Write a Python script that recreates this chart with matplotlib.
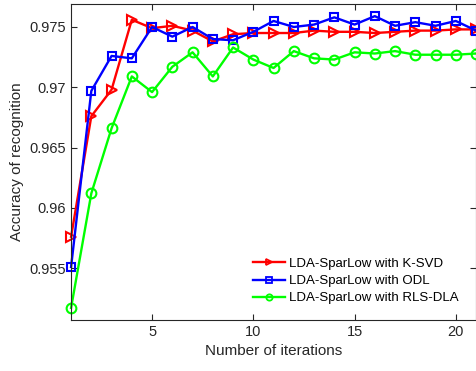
import numpy as np
import matplotlib
matplotlib.use("Agg")
import matplotlib.pyplot as plt

plt.rcParams['font.family'] = ['Liberation Sans', 'DejaVu Sans']

# iterations 1..21
iterations = list(range(1, 22))

ksvd = [0.9576, 0.9676, 0.9698, 0.9756, 0.9749, 0.9751, 0.9747, 0.9738, 0.9744,
        0.9745, 0.9745, 0.9745, 0.9747, 0.9746, 0.9746, 0.9745, 0.9746, 0.9747,
        0.9747, 0.9748, 0.9748]
odl = [0.9551, 0.9697, 0.9726, 0.9724, 0.9750, 0.9742, 0.9750, 0.9740, 0.9739,
       0.9746, 0.9755, 0.9750, 0.9752, 0.9758, 0.9752, 0.9759, 0.9751, 0.9754,
       0.9751, 0.9755, 0.9747]
rls = [0.9517, 0.9612, 0.9666, 0.9709, 0.9696, 0.9717, 0.9729, 0.9709, 0.9733,
       0.9723, 0.9716, 0.9730, 0.9724, 0.9723, 0.9729, 0.9728, 0.9730, 0.9727,
       0.9727, 0.9727, 0.9728]

labels = ['LDA-SparLow with K-SVD', 'LDA-SparLow with ODL', 'LDA-SparLow with RLS-DLA']

fig = plt.figure(figsize=(4.77, 3.71), dpi=100)
ax = fig.add_axes([0.149, 0.1375, 0.849, 0.8515])

ax.plot(iterations, ksvd, color='red', marker='>', mfc='none', ms=7, mew=1.5,
        lw=1.7, label=labels[0], clip_on=False)
ax.plot(iterations, odl, color='blue', marker='s', mfc='none', ms=6, mew=1.5,
        lw=1.7, label=labels[1], clip_on=False)
ax.plot(iterations, rls, color=(0, 1, 0), marker='o', mfc='none', ms=7, mew=1.5,
        lw=1.7, label=labels[2], clip_on=False)

ax.set_xlim(1, 21)
ax.set_ylim(0.9507, 0.9769)
ax.set_xticks([5, 10, 15, 20])
ax.set_yticks([0.955, 0.96, 0.965, 0.97, 0.975])
ax.set_yticklabels(['0.955', '0.96', '0.965', '0.97', '0.975'])

gray = (0.15, 0.15, 0.15)
for s in ax.spines.values():
    s.set_color(gray)
    s.set_linewidth(0.8)
ax.tick_params(direction='in', top=True, right=True, colors=gray,
               labelsize=10.5, length=4)
ax.set_xlabel('Number of iterations', fontsize=11, color=gray)
ax.set_ylabel('Accuracy of recognition', fontsize=11, color=gray)

leg = ax.legend(loc='lower right', frameon=False, fontsize=9.5,
                handlelength=2.4, borderaxespad=0.3, labelspacing=0.38,
                handletextpad=0.3, bbox_to_anchor=(0.98, 0.02))
for h in leg.legend_handles:
    h.set_markersize(4.5)
    h.set_markeredgewidth(1.3)
for t in leg.get_texts():
    t.set_color('black')

fig.savefig('out.png', dpi=100)
